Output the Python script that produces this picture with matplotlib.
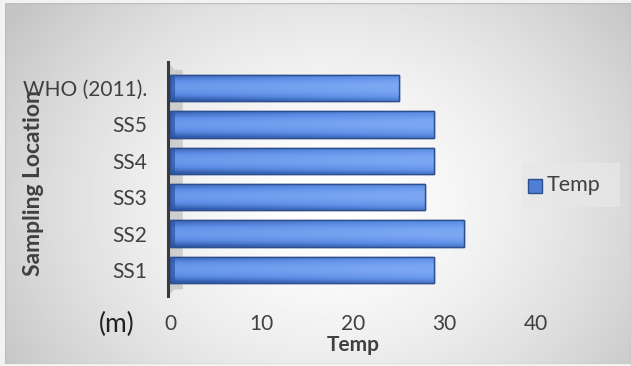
import numpy as np
import matplotlib
matplotlib.use("Agg")
import matplotlib.pyplot as plt
from matplotlib.patches import Polygon, Rectangle
from matplotlib.lines import Line2D
import matplotlib.colors as mcolors

# Data
locations = ["SS1", "SS2", "SS3", "SS4", "SS5", "WHO (2011)."]
temp = [28.9, 32.2, 27.9, 28.9, 28.9, 25.0]
xticks = [0, 10, 20, 30, 40]
series_name = "Temp"

W, H = 631, 366
fig = plt.figure(figsize=(W / 100, H / 100), dpi=100)
fig.patch.set_facecolor("#f2f2f2")

# Radial grey background of the chart area
bg = fig.add_axes([5 / W, 2 / H, 1 - 5 / W, 1 - 5 / H])
bg.set_axis_off()
yy, xx = np.mgrid[0:1:200j, 0:1:400j]
d = np.sqrt(((xx - 0.52) / 0.62) ** 2 + ((yy - 0.55) / 0.9) ** 2)
d = np.clip(d, 0, 1)
shade = 1.0 - 0.23 * d ** 1.6
bg.imshow(shade, cmap="gray", vmin=0, vmax=1, aspect="auto",
          extent=[0, 1, 0, 1], interpolation="bilinear")
bg.add_patch(Rectangle((0, 0), 1, 1, transform=bg.transAxes, fill=False,
                       edgecolor="#bdbdbd", lw=1.0))
bg.set_xlim(0, 1)
bg.set_ylim(0, 1)

font = "Lato"
tick_color = "#404040"

ax = fig.add_axes([170 / W, 1 - 288.2 / H, (535.7 - 170) / W, 218.4 / H])
ax.patch.set_alpha(0)
for s in ax.spines.values():
    s.set_visible(False)

ypos = np.arange(len(locations))
bar_h = 0.72
bars = ax.barh(ypos, temp, height=bar_h, color="#4a78d0",
               edgecolor="#2f4f8c", linewidth=1.0, zorder=3)

# Shaded front face of each bar
grad = np.array([0.0, 0.25, 0.45, 0.6, 0.7, 0.72, 0.65, 0.5, 0.3, 0.15])[:, None]
cmap = mcolors.LinearSegmentedColormap.from_list(
    "barshade", ["#2f5aa8", "#5d8ee6", "#7aa6f2"])
horiz = np.linspace(0, 0.35, 60)[None, :]
shade_img = np.clip(grad + horiz, 0, 1)
for rect, v, y in zip(bars, temp, ypos):
    im = ax.imshow(shade_img, cmap=cmap, vmin=0, vmax=1, aspect="auto",
                   extent=[0, v, y + bar_h / 2, y - bar_h / 2],
                   interpolation="bilinear", zorder=3.5)
    im.set_clip_path(rect)
    ax.add_patch(Rectangle((0, y - bar_h / 2), v, bar_h, fill=False,
                           edgecolor="#2f4f8c", lw=1.0, zorder=4))
    # darker left cap
    ax.add_patch(Rectangle((0, y - bar_h / 2), 0.5, bar_h, facecolor="#2d54a0",
                           edgecolor="none", zorder=4, alpha=0.7))

ax.set_xlim(0, 40)
ax.set_ylim(-0.5, len(locations) - 0.5)

# Side wall
ax.add_patch(Polygon([(-0.005, -0.035), (0.012, -0.005), (0.035, -0.005),
                      (0.035, 1.0), (0.012, 1.0), (-0.005, 1.035)],
                     closed=True, transform=ax.transAxes,
                     facecolor="#c8c8c8", edgecolor="none", clip_on=False,
                     zorder=1, alpha=0.85))
ax.add_line(Line2D([-0.005, -0.005], [-0.035, 1.035], transform=ax.transAxes,
                   color="#3a3a3a", lw=2.2, clip_on=False, zorder=5))

ax.set_xticks(xticks)
ax.set_xticklabels([str(t) for t in xticks], fontsize=15, color=tick_color,
                   family=font)
ax.set_yticks(ypos)
ax.set_yticklabels(locations, fontsize=15, color=tick_color, family=font)
ax.tick_params(axis="both", length=0)
ax.tick_params(axis="x", pad=18.5)
ax.tick_params(axis="y", pad=16.5)

fig.text(353 / W, 1 - 345 / H, "Temp", fontsize=15, fontweight="bold",
         color=tick_color, family=font, ha="center", va="center")
fig.text(34 / W, 1 - 183 / H, "Sampling Location", rotation=90,
         fontsize=16.5, fontweight="bold", color=tick_color, family=font,
         ha="center", va="center")
fig.text(99 / W, 1 - 324 / H, "(m)", fontsize=19, color="#202020",
         family=font, ha="left", va="center")

# Legend
fig.patches.append(Rectangle((522 / W, 1 - 207 / H), 98 / W, 44 / H,
                             transform=fig.transFigure, facecolor="#e8e8e8",
                             edgecolor="none", alpha=0.7, zorder=1))
fig.patches.append(Rectangle((528 / W, 1 - 193 / H), 14 / W, 14 / H,
                             transform=fig.transFigure, facecolor="#4e7ed6",
                             edgecolor="#2f4f8c", lw=1.0, zorder=2))
fig.text(547 / W, 1 - 185.5 / H, series_name, fontsize=15.5, color=tick_color,
         family=font, ha="left", va="center")

fig.savefig("out.png", dpi=100)
